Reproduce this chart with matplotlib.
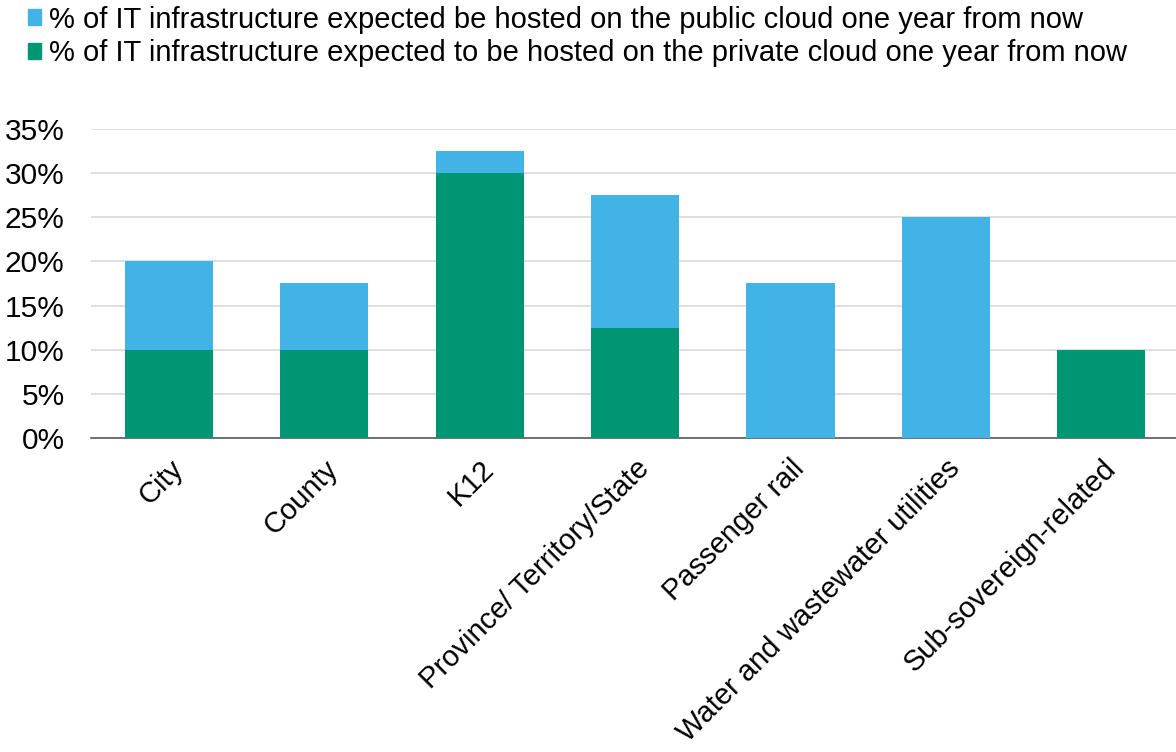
import matplotlib.pyplot as plt
from matplotlib.patches import Patch
from matplotlib.ticker import FuncFormatter

plt.rcParams['font.family'] = ['Liberation Sans', 'DejaVu Sans']

categories = ['City', 'County', 'K12', 'Province/ Territory/State', 'Passenger rail',
              'Water and wastewater utilities', 'Sub-sovereign-related']
private_cloud = [10, 10, 30, 12.5, 0, 0, 10]
public_cloud = [10, 7.5, 2.5, 15, 17.5, 25, 0]
legend_labels = ['% of IT infrastructure expected be hosted on the public cloud one year from now',
                 '% of IT infrastructure expected to be hosted on the private cloud one year from now']

blue = '#41B3E6'
green = '#009673'

fig = plt.figure(figsize=(11.76, 7.52), dpi=100)
ax = fig.add_axes([0.0774, 0.4176, 0.9252, 0.4109])

x = range(len(categories))
ax.bar(x, private_cloud, width=0.567, color=green, zorder=3)
ax.bar(x, public_cloud, width=0.567, bottom=private_cloud, color=blue, zorder=3)

ax.set_xlim(-0.5, len(categories) - 0.5)
ax.set_ylim(0, 35)
ax.set_yticks(range(0, 36, 5))
ax.yaxis.set_major_formatter(FuncFormatter(lambda v, p: '%d%%' % v))
ax.grid(axis='y', color='#d9d9d9', linewidth=1.2, zorder=0)

for s in ['top', 'right', 'left']:
    ax.spines[s].set_visible(False)
ax.spines['bottom'].set_color('#595959')
ax.spines['bottom'].set_linewidth(1.2)
ax.tick_params(axis='both', length=0, labelsize=21.5, colors='black')
ax.tick_params(axis='x', pad=12)
ax.tick_params(axis='y', pad=19)

ax.set_xticks(list(x))
ax.set_xticklabels(categories, rotation=45, ha='right', rotation_mode='anchor', fontsize=21)

handles = [Patch(color=blue), Patch(color=green)]
fig.legend(handles, legend_labels, loc='upper left', bbox_to_anchor=(0.014, 1.008),
           frameon=False, fontsize=21, handlelength=0.45, handleheight=0.45,
           handletextpad=0.25, labelspacing=0.2, borderaxespad=0)

fig.savefig('out.png', dpi=100)
